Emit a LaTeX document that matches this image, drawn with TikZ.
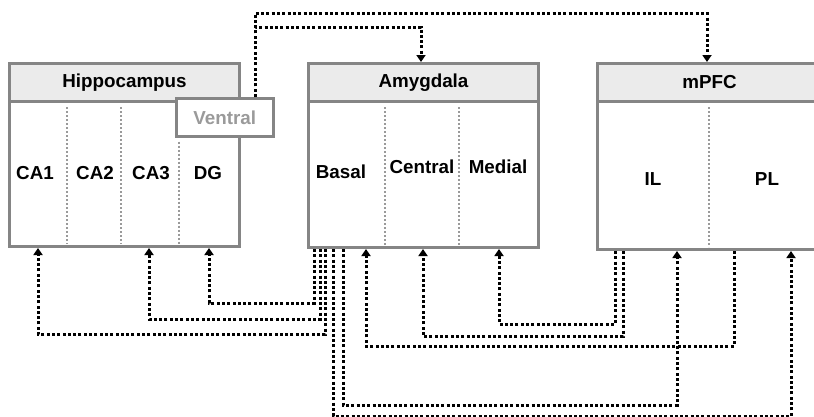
\documentclass[tikz,border=0pt]{standalone}
\usepackage{fontspec}
\setmainfont{Liberation Sans}
\usetikzlibrary{arrows.meta}
\definecolor{boxgray}{HTML}{858585}
\definecolor{headfill}{HTML}{EBEBEB}
\definecolor{divgray}{HTML}{9A9A9A}
\definecolor{ventgray}{HTML}{9A9A9A}
\begin{document}
\begin{tikzpicture}[x=1pt,y=-1pt,
 region/.style={draw=boxgray, line width=3pt, fill=white, inner sep=0pt, anchor=north west},
 header/.style={draw=boxgray, line width=3pt, fill=headfill, inner sep=0pt, anchor=north west,
   minimum height=38pt, font=\fontsize{18.8}{21}\selectfont\bfseries},
 lbl/.style={font=\fontsize{18.8}{21}\selectfont\bfseries, inner sep=0pt},
 divider/.style={draw=divgray, line width=2pt, dash pattern=on 2pt off 2pt},
 conn/.style={draw=black, line width=3pt, dash pattern=on 3pt off 2.3pt},
 arr/.style={conn, -{Triangle[width=9pt,length=7pt]}},
]
\useasboundingbox (0,0) rectangle (814,416);
\clip (0,0) rectangle (814,416);
% boxes
\node[region, minimum width=230pt, minimum height=183pt] (hip) at (8,62) {};
\node[header, minimum width=230pt] (hiphead) at (8,62) {Hippocampus};
\node[region, minimum width=230pt, minimum height=184pt] (amy) at (307,62) {};
\node[header, minimum width=230pt] (amyhead) at (307,62) {Amygdala};
\node[region, minimum width=224pt, minimum height=186pt] (mpfc) at (596,62) {};
\node[header, minimum width=224pt] (mpfchead) at (596,62) {mPFC};
% dividers
\draw[divider] ([xshift=59pt,yshift=-4pt]hiphead.south west) -- ([xshift=59pt,yshift=4pt]hip.south west);
\draw[divider] ([xshift=113pt,yshift=-4pt]hiphead.south west) -- ([xshift=113pt,yshift=4pt]hip.south west);
\draw[divider] ([xshift=78pt,yshift=-4pt]amyhead.south west) -- ([xshift=78pt,yshift=4pt]amy.south west);
\draw[divider] ([xshift=152pt,yshift=-4pt]amyhead.south west) -- ([xshift=152pt,yshift=4pt]amy.south west);
\draw[divider] ([xshift=113pt,yshift=-4pt]mpfchead.south west) -- ([xshift=113pt,yshift=4pt]mpfc.south west);
% ventral
\node[draw=boxgray, line width=2.6pt, fill=white, anchor=north west, minimum width=97pt,
  minimum height=38pt, lbl, text=ventgray] (vent) at (175,97) {Ventral};
\draw[divider] ([xshift=4pt,yshift=-4pt]vent.south west) -- ([xshift=171pt,yshift=4pt]hip.south west);
% labels
\node[lbl] (ca1) at (35,173) {CA1};
\node[lbl] (ca2) at (95,173) {CA2};
\node[lbl] (ca3) at (151,173) {CA3};
\node[lbl] (dg) at (208,173) {DG};
\node[lbl] (basal) at (341,172) {Basal};
\node[lbl] (central) at (422,167) {Central};
\node[lbl] (medial) at (498,167) {Medial};
\node[lbl] (il) at (653,179) {IL};
\node[lbl] (pl) at (767,179) {PL};
% ports
\coordinate (hCA1) at ([xshift=30pt]hip.south west);
\coordinate (hCA3) at ([xshift=141pt]hip.south west);
\coordinate (hDG) at ([xshift=201pt]hip.south west);
\coordinate (a1) at ([xshift=7pt]amy.south west);
\coordinate (a2) at ([xshift=13pt]amy.south west);
\coordinate (a3) at ([xshift=18pt]amy.south west);
\coordinate (a4) at ([xshift=26pt]amy.south west);
\coordinate (a5) at ([xshift=36pt]amy.south west);
\coordinate (aB) at ([xshift=59pt]amy.south west);
\coordinate (aC) at ([xshift=116pt]amy.south west);
\coordinate (aM) at ([xshift=192pt]amy.south west);
\coordinate (m1) at ([xshift=19pt]mpfc.south west);
\coordinate (m2) at ([xshift=27pt]mpfc.south west);
\coordinate (mIL) at ([xshift=81pt]mpfc.south west);
\coordinate (m3) at ([xshift=138pt]mpfc.south west);
\coordinate (mPL) at ([xshift=195pt]mpfc.south west);
\coordinate (vtop) at ([xshift=80pt]vent.north west);
\coordinate (atop) at ([xshift=114pt]amyhead.north west);
\coordinate (mtop) at ([xshift=111pt]mpfchead.north west);
% top connectors
\draw[arr] (vtop) -- ++(0,-84) -| (mtop);
\draw[arr] (vtop) -- ++(0,-70) -| (atop);
% bottom connectors
\draw[arr] (a1) -- ++(0,54) -| (hDG);
\draw[arr] (a2) -- ++(0,70) -| (hCA3);
\draw[arr] (a3) -- ++(0,85) -| (hCA1);
\draw[arr] (a4) -- ++(0,167) -| (mPL);
\draw[arr] (a5) -- ++(0,156) -| (mIL);
\draw[arr] (m3) -- ++(0,95) -| (aB);
\draw[arr] (m2) -- ++(0,85) -| (aC);
\draw[arr] (m1) -- ++(0,73) -| (aM);
\end{tikzpicture}
\end{document}
